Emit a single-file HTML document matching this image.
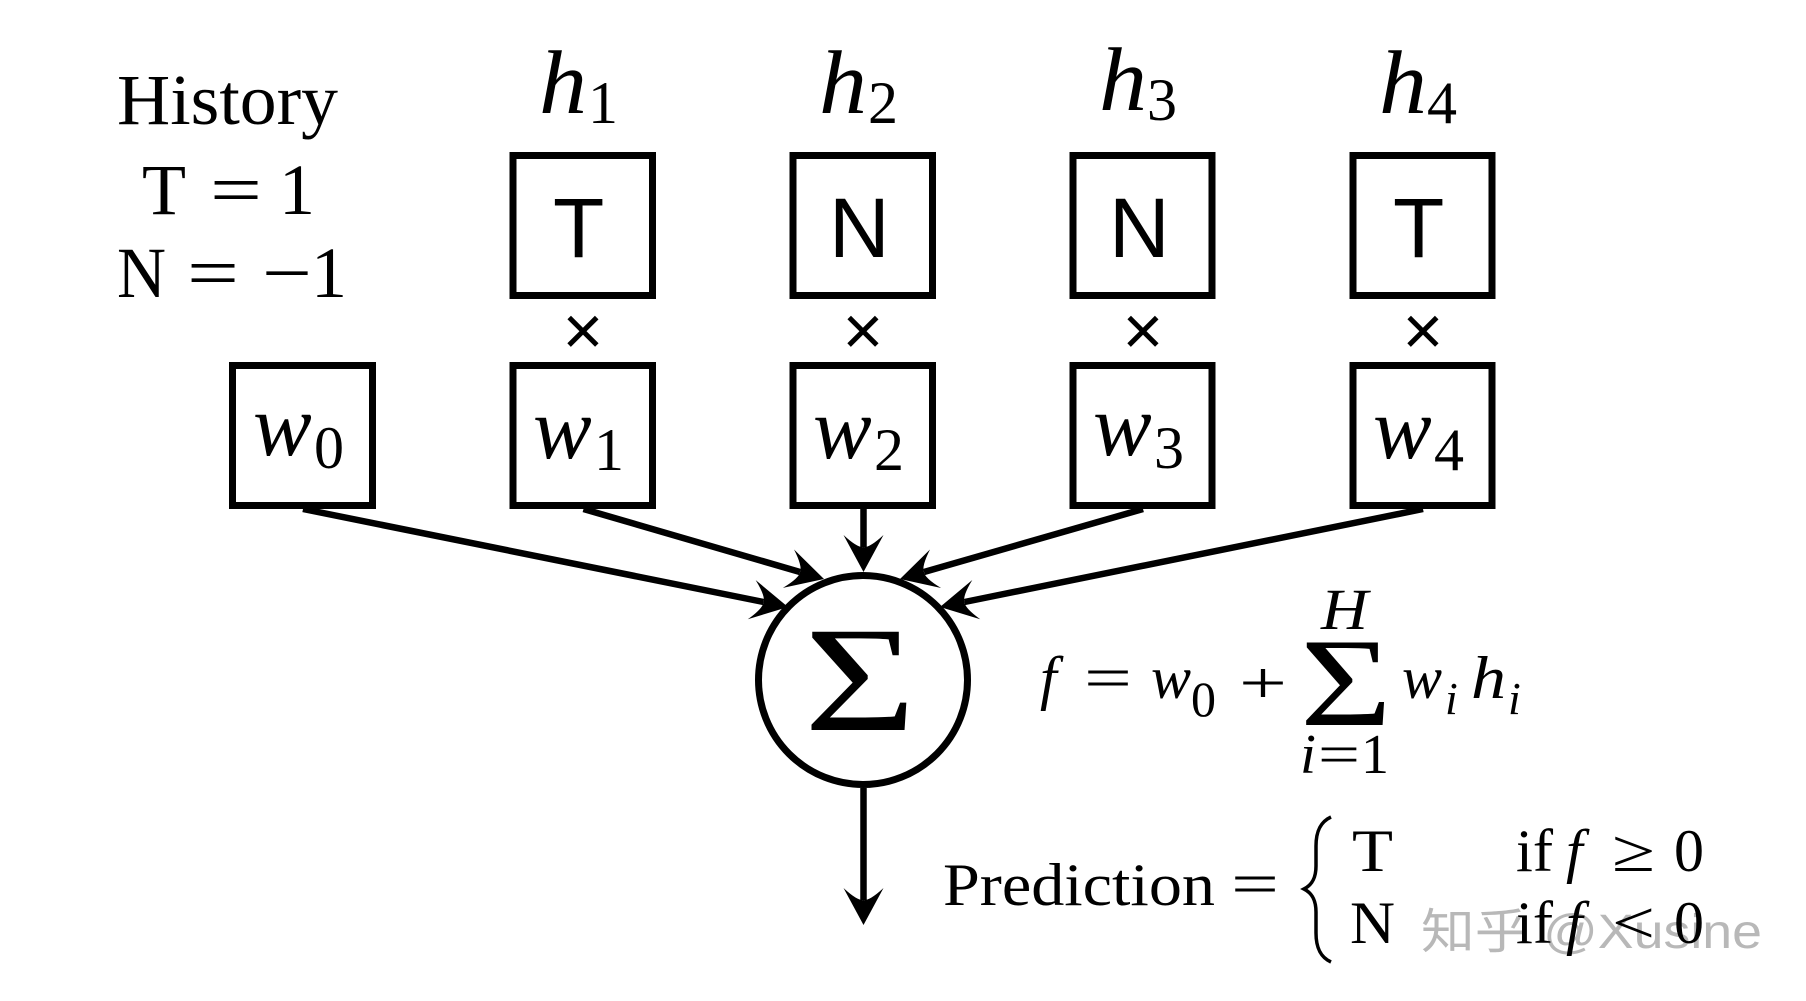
<!DOCTYPE html>
<html>
<head>
<meta charset="utf-8">
<style>
html,body{margin:0;padding:0;background:#fff;width:1806px;height:1001px;overflow:hidden}
svg{display:block}
text{fill:#000;font-family:"Liberation Serif","Noto Serif CJK SC",serif}
.i{font-style:italic}
.s{font-family:"Liberation Sans",sans-serif}
</style>
</head>
<body>
<svg width="1806" height="1001" viewBox="0 0 1806 1001" xmlns="http://www.w3.org/2000/svg">
<defs>
<path id="head" d="M0 0 L-37 -20 Q-24 -6 -25 0 Q-24 6 -37 20 Z" fill="#000"/>
</defs>

<!-- legend -->
<text x="117" y="124" font-size="72" textLength="221" lengthAdjust="spacingAndGlyphs">History</text>
<text x="142" y="214" font-size="72" textLength="44" lengthAdjust="spacingAndGlyphs">T</text>
<text x="210" y="214" font-size="72" textLength="52" lengthAdjust="spacingAndGlyphs">=</text>
<text x="279" y="214" font-size="72">1</text>
<text x="117" y="297" font-size="72" textLength="49" lengthAdjust="spacingAndGlyphs">N</text>
<text x="187" y="297" font-size="72" textLength="52" lengthAdjust="spacingAndGlyphs">=</text>
<text x="262" y="297" font-size="72" textLength="50" lengthAdjust="spacingAndGlyphs">−</text>
<text x="311" y="297" font-size="72">1</text>

<!-- h labels -->
<text class="i" x="539" y="113" font-size="90" textLength="48" lengthAdjust="spacingAndGlyphs">h</text>
<text x="588" y="123" font-size="60">1</text>
<text class="i" x="819" y="113" font-size="90" textLength="48" lengthAdjust="spacingAndGlyphs">h</text>
<text x="868" y="123" font-size="60">2</text>
<text class="i" x="1099" y="110" font-size="90" textLength="48" lengthAdjust="spacingAndGlyphs">h</text>
<text x="1147" y="120" font-size="60">3</text>
<text class="i" x="1379" y="113" font-size="90" textLength="48" lengthAdjust="spacingAndGlyphs">h</text>
<text x="1427" y="123" font-size="60">4</text>

<!-- boxes -->
<g fill="#fff" stroke="#000" stroke-width="7">
<rect x="513" y="155.5" width="139.5" height="140"/>
<rect x="793" y="155.5" width="139.5" height="140"/>
<rect x="1073" y="155.5" width="139" height="140"/>
<rect x="1353" y="155.5" width="139" height="140"/>
<rect x="232.5" y="365.5" width="140" height="140"/>
<rect x="513" y="365.5" width="139.5" height="140"/>
<rect x="793" y="365.5" width="139.5" height="140"/>
<rect x="1073" y="365.5" width="139" height="140"/>
<rect x="1353" y="365.5" width="139" height="140"/>
</g>

<!-- box letters -->
<text class="s" x="553" y="257" font-size="84">T</text>
<text class="s" x="829" y="257" font-size="84">N</text>
<text class="s" x="1109" y="257" font-size="84">N</text>
<text class="s" x="1393" y="257" font-size="84">T</text>

<!-- times -->
<text class="s" x="583" y="354.5" font-size="70" text-anchor="middle">×</text>
<text class="s" x="863" y="354.5" font-size="70" text-anchor="middle">×</text>
<text class="s" x="1143" y="354.5" font-size="70" text-anchor="middle">×</text>
<text class="s" x="1423" y="354.5" font-size="70" text-anchor="middle">×</text>

<!-- weights -->
<text class="i" x="253" y="455" font-size="88">w</text>
<text x="314" y="468" font-size="60">0</text>
<text class="i" x="533" y="458" font-size="88">w</text>
<text x="594" y="470" font-size="60">1</text>
<text class="i" x="813" y="458" font-size="88">w</text>
<text x="874" y="470" font-size="60">2</text>
<text class="i" x="1093" y="455" font-size="88">w</text>
<text x="1154" y="468" font-size="60">3</text>
<text class="i" x="1373" y="458" font-size="88">w</text>
<text x="1434" y="470" font-size="60">4</text>

<!-- arrows -->
<g stroke="#000" stroke-width="6.5" fill="none">
<line x1="303" y1="509" x2="763.5" y2="602"/>
<line x1="583.5" y1="509" x2="800" y2="572"/>
<line x1="863.5" y1="509" x2="863.5" y2="547"/>
<line x1="1143" y1="509" x2="924" y2="572"/>
<line x1="1423" y1="509" x2="964.5" y2="602"/>
<line x1="863.5" y1="788" x2="863.5" y2="900"/>
</g>

<!-- summation node -->
<circle cx="863" cy="680" r="104.5" fill="#fff" stroke="#000" stroke-width="7"/>
<text x="804" y="730" font-size="150" textLength="112" lengthAdjust="spacingAndGlyphs">Σ</text>

<use href="#head" transform="translate(788 607) rotate(11.42)"/>
<use href="#head" transform="translate(824 579) rotate(16.2)"/>
<use href="#head" transform="translate(863.5 572) rotate(90)"/>
<use href="#head" transform="translate(900 579) rotate(163.9)"/>
<use href="#head" transform="translate(940 607) rotate(168.53)"/>
<use href="#head" transform="translate(863.5 925) rotate(90)"/>

<!-- f equation -->
<text class="i" x="1040" y="698" font-size="60">f</text>
<text x="1084" y="698" font-size="60" textLength="48" lengthAdjust="spacingAndGlyphs">=</text>
<text class="i" x="1151" y="698" font-size="60">w</text>
<text x="1191" y="716" font-size="50">0</text>
<text x="1239" y="703" font-size="60" textLength="48" lengthAdjust="spacingAndGlyphs">+</text>
<text x="1300" y="725" font-size="126" textLength="92" lengthAdjust="spacingAndGlyphs">Σ</text>
<text class="i" x="1321" y="629" font-size="58" textLength="47" lengthAdjust="spacingAndGlyphs">H</text>
<text class="i" x="1300" y="773" font-size="56" textLength="16" lengthAdjust="spacingAndGlyphs">i</text>
<text x="1318" y="773" font-size="56" textLength="42" lengthAdjust="spacingAndGlyphs">=</text>
<text x="1361" y="773" font-size="56">1</text>
<text class="i" x="1402" y="698" font-size="60">w</text>
<text class="i" x="1445" y="714" font-size="46">i</text>
<text class="i" x="1471" y="698" font-size="60" textLength="35" lengthAdjust="spacingAndGlyphs">h</text>
<text class="i" x="1508" y="714" font-size="46">i</text>

<!-- watermark -->
<text x="1421" y="948" font-size="48" textLength="341" lengthAdjust="spacingAndGlyphs" style="fill:#b8b8b8;font-family:'Liberation Sans','Noto Sans CJK SC',sans-serif">知乎 @Xusine</text>

<!-- prediction -->
<text x="943" y="905" font-size="60" textLength="272" lengthAdjust="spacingAndGlyphs">Prediction</text>
<text x="1231" y="904" font-size="60" textLength="48" lengthAdjust="spacingAndGlyphs">=</text>
<path d="M1331 817 C1320 822 1316 832 1316 846 L1316 866 C1316 878 1312 885 1304 889 C1312 893 1316 900 1316 912 L1316 933 C1316 947 1320 957 1331 962" fill="none" stroke="#000" stroke-width="3.5"/>
<text x="1352" y="871" font-size="60" textLength="41" lengthAdjust="spacingAndGlyphs">T</text>
<text x="1516" y="871" font-size="60" textLength="37" lengthAdjust="spacingAndGlyphs">if</text>
<text class="i" x="1566" y="871" font-size="60">f</text>
<text x="1612" y="871" font-size="60" textLength="43" lengthAdjust="spacingAndGlyphs">≥</text>
<text x="1674" y="871" font-size="60">0</text>
<text x="1350" y="943" font-size="60" textLength="45" lengthAdjust="spacingAndGlyphs">N</text>
<text x="1516" y="943" font-size="60" textLength="37" lengthAdjust="spacingAndGlyphs">if</text>
<text class="i" x="1566" y="943" font-size="60">f</text>
<text x="1612" y="943" font-size="60" textLength="43" lengthAdjust="spacingAndGlyphs">&lt;</text>
<text x="1674" y="943" font-size="60">0</text>
</svg>
</body>
</html>
